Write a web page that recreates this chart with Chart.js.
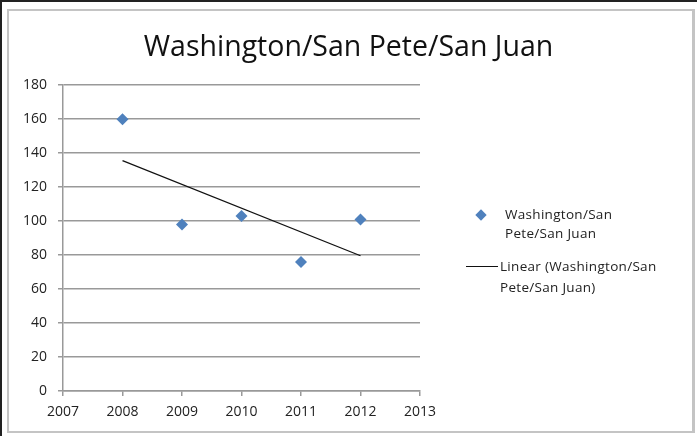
<!DOCTYPE html>
<html>
<head>
<meta charset="utf-8">
<script src="https://cdn.jsdelivr.net/npm/chart.js@4/dist/chart.umd.min.js"></script>
<style>
  html, body { margin: 0; padding: 0; background: #fff; }
  #frame { position: relative; width: 697px; height: 436px; overflow: hidden; }
  #outer { position: absolute; left: 0; top: 0; width: 697px; height: 436px; border-left: 2px solid #222; border-top: 2px solid #222; box-sizing: border-box; }
  #inner { position: absolute; left: 7px; top: 9px; width: 688px; height: 424px; border: 2px solid #c4c4c4; border-right-width: 3px; box-sizing: border-box; }
  #wrap { position: absolute; left: 0; top: 0; width: 697px; height: 436px; }
  .item { position: absolute; font-family: "Open Sans", "Liberation Sans", sans-serif; font-size: 13.5px; color: #222; white-space: pre; letter-spacing: 0.3px; }
  .mark { position: absolute; }
</style>
</head>
<body>
<div id="frame">
  <div id="outer"></div>
  <div id="inner"></div>
  <div id="wrap"><canvas id="chart" width="697" height="436"></canvas></div>
</div>
<script>
// Chart data
const chartTitle = 'Washington/San Pete/San Juan';
const seriesName = 'Washington/San Pete/San Juan';
const years = [2008, 2009, 2010, 2011, 2012];
const counts = [160, 98, 103, 76, 101];
// linear trendline end points (as drawn in the reference)
const trendYears = [2008, 2012];
const trendValues = [135.6, 79.6];
const xTicks = [2007, 2008, 2009, 2010, 2011, 2012, 2013];
const yTicks = [0, 20, 40, 60, 80, 100, 120, 140, 160, 180];

const blue = '#4f81bd';
const gridGray = '#999999';
const font = "'Open Sans', 'Liberation Sans', sans-serif";

const ctx = document.getElementById('chart').getContext('2d');
const chart = new Chart(ctx, {
    type: 'scatter',
    data: {
        datasets: [
            {
                label: seriesName,
                data: years.map((y, i) => ({ x: y, y: counts[i] })),
                pointStyle: 'rectRot',
                pointRadius: 6,
                pointHoverRadius: 6,
                backgroundColor: blue,
                borderColor: blue,
                borderWidth: 0
            },
            {
                label: 'Linear (' + seriesName + ')',
                data: trendYears.map((y, i) => ({ x: y, y: trendValues[i] })),
                showLine: true,
                pointRadius: 0,
                borderColor: '#111',
                borderWidth: 1.2,
                backgroundColor: '#111'
            }
        ]
    },
    options: {
        responsive: false,
        animation: false,
        layout: { padding: { left: 0, right: 0, top: 0, bottom: 10 } },
        plugins: {
            legend: { display: false },
            tooltip: { enabled: false },
            title: {
                display: true,
                text: chartTitle,
                color: '#111',
                font: { family: font, size: 28.5, weight: 'normal' },
                padding: { top: 31, bottom: 20 }
            }
        },
        scales: {
            x: {
                type: 'linear',
                min: xTicks[0],
                max: xTicks[xTicks.length - 1],
                afterBuildTicks: (s) => { s.ticks = xTicks.map(v => ({ value: v })); },
                afterFit: (s) => { s.height = 35; },
                ticks: { color: '#222', font: { family: font, size: 14 }, padding: 8, maxRotation: 0, callback: v => String(v) },
                grid: { drawOnChartArea: false, drawTicks: true, tickLength: 5, color: gridGray, lineWidth: 1.5 },
                border: { display: true, color: gridGray, width: 1.5 }
            },
            y: {
                min: yTicks[0],
                max: yTicks[yTicks.length - 1],
                afterBuildTicks: (s) => { s.ticks = yTicks.map(v => ({ value: v })); },
                afterFit: (s) => { s.width = 63; },
                ticks: { color: '#222', font: { family: font, size: 14 }, padding: 11 },
                grid: { drawTicks: true, tickLength: 5, color: gridGray, lineWidth: 1.5 },
                border: { display: true, color: gridGray, width: 1.5 }
            },
            // empty right-hand axis that reserves the legend space
            side: {
                position: 'right',
                display: true,
                afterFit: (s) => { s.width = 277; },
                ticks: { display: false },
                grid: { display: false },
                border: { display: false }
            }
        }
    }
});

// HTML legend built from the chart's datasets, wrapped like the reference
const frame = document.getElementById('frame');
const itemPos = [
    { left: 505, top: 205, lh: 19, mark: 'left:-28px;top:6px;width:8px;height:8px;transform:rotate(45deg);' },
    { left: 500, top: 256, lh: 21, mark: 'left:-34px;top:10px;width:32px;height:0;' }
];
chart.data.datasets.forEach((ds, i) => {
    const p = itemPos[i];
    const item = document.createElement('div');
    item.className = 'item';
    item.style.left = p.left + 'px';
    item.style.top = p.top + 'px';
    item.style.lineHeight = p.lh + 'px';
    const mark = document.createElement('span');
    mark.className = 'mark';
    mark.style.cssText = p.mark + (i === 0
        ? 'background:' + ds.backgroundColor + ';'
        : 'border-top:1.2px solid ' + ds.borderColor + ';');
    const txt = document.createElement('span');
    // break the label after the first "San", as in the reference
    txt.textContent = ds.label.replace('San Pete', 'San\nPete');
    item.appendChild(mark);
    item.appendChild(txt);
    frame.appendChild(item);
});
</script>
</body>
</html>
